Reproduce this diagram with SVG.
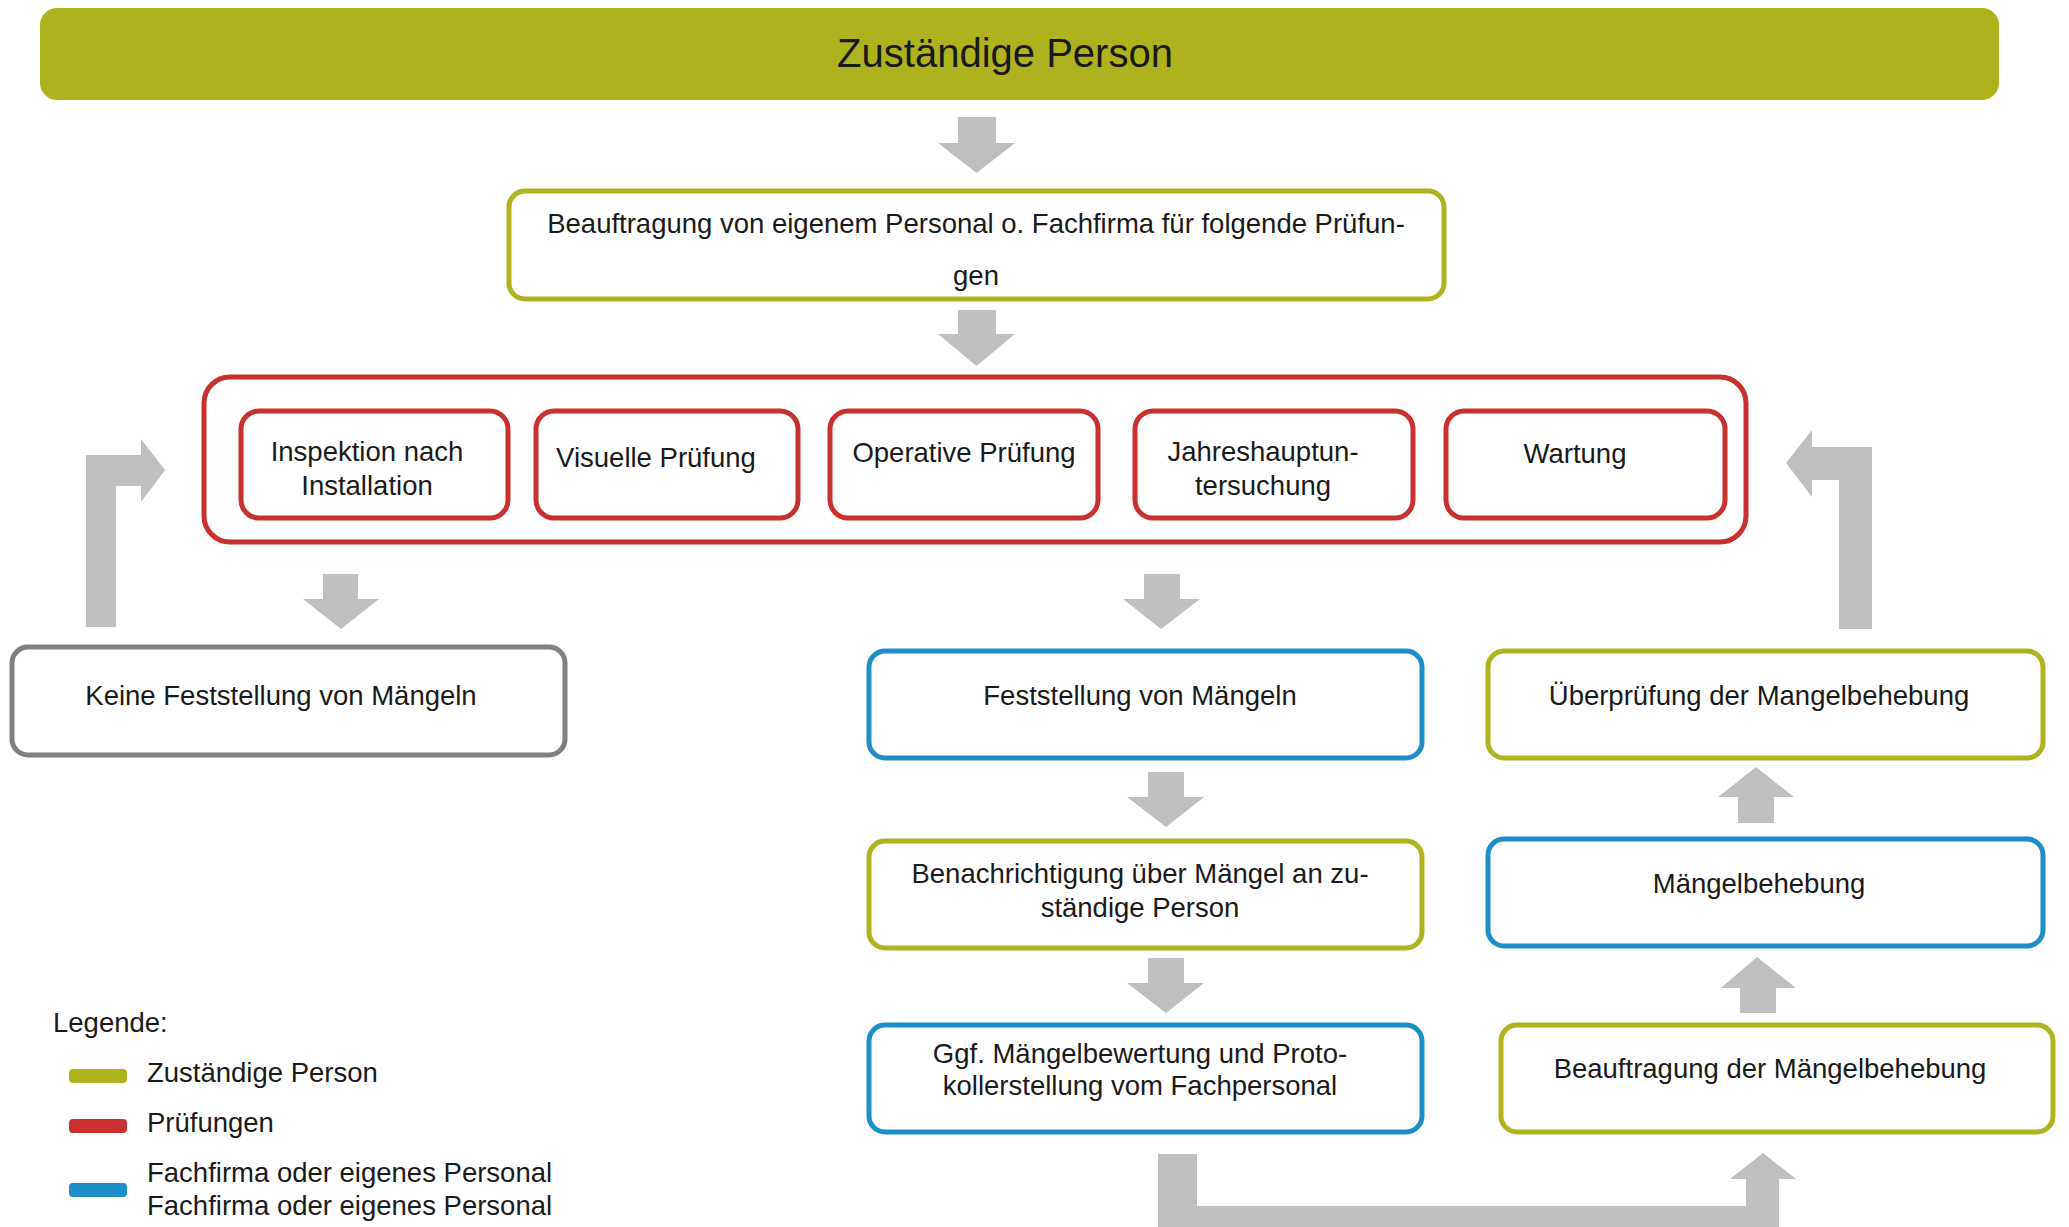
<svg xmlns="http://www.w3.org/2000/svg" width="2069" height="1227" viewBox="0 0 2069 1227">
<style>
text{font-family:"Liberation Sans",Arial,sans-serif;fill:#1a1a1a;font-size:27.5px;text-anchor:middle}
.box{fill:#fff;stroke-width:5}
.g{stroke:#AEB31F}.r{stroke:#C9302F}.b{stroke:#1D8FC6}.k{stroke:#808080}
.arr{fill:#BFBFBF}
.lt{text-anchor:start}
</style>
<rect width="2069" height="1227" fill="#fff"/>
<g id="title">
<rect x="40" y="8" width="1959" height="92" rx="17" fill="#ADB21E"/>
<text x="1005" y="67" style="font-size:40px">Zuständige Person</text>
</g>
<g id="beauftragung">
<rect class="box g" x="509" y="191" width="935" height="108" rx="16"/>
<text x="976" y="233">Beauftragung von eigenem Personal o. Fachfirma für folgende Prüfun-</text>
<text x="976" y="285">gen</text>
</g>
<g id="pruefungen">
<rect class="box r" x="204" y="377" width="1542" height="165" rx="26"/>
</g>
<g id="inspektion">
<rect class="box r" x="241" y="411" width="267" height="107" rx="18"/>
<text x="367" y="461">Inspektion nach</text>
<text x="367" y="495">Installation</text>
</g>
<g id="visuell">
<rect class="box r" x="536" y="411" width="262" height="107" rx="18"/>
<text x="656" y="467">Visuelle Prüfung</text>
</g>
<g id="operativ">
<rect class="box r" x="830" y="411" width="268" height="107" rx="18"/>
<text x="964" y="462">Operative Prüfung</text>
</g>
<g id="jahres">
<rect class="box r" x="1135" y="411" width="278" height="107" rx="18"/>
<text x="1263" y="461">Jahreshauptun-</text>
<text x="1263" y="495">tersuchung</text>
</g>
<g id="wartung">
<rect class="box r" x="1446" y="411" width="279" height="107" rx="18"/>
<text x="1575" y="463">Wartung</text>
</g>
<g id="keine">
<rect class="box k" x="12" y="647" width="553" height="108" rx="16"/>
<text x="281" y="705">Keine Feststellung von Mängeln</text>
</g>
<g id="feststellung">
<rect class="box b" x="869" y="651" width="553" height="107" rx="16"/>
<text x="1140" y="705">Feststellung von Mängeln</text>
</g>
<g id="ueberpruefung">
<rect class="box g" x="1488" y="651" width="555" height="107" rx="16"/>
<text x="1759" y="705">Überprüfung der Mangelbehebung</text>
</g>
<g id="benachrichtigung">
<rect class="box g" x="869" y="841" width="553" height="107" rx="16"/>
<text x="1140" y="883">Benachrichtigung über Mängel an zu-</text>
<text x="1140" y="917">ständige Person</text>
</g>
<g id="maengelbehebung">
<rect class="box b" x="1488" y="839" width="555" height="107" rx="16"/>
<text x="1759" y="893">Mängelbehebung</text>
</g>
<g id="ggf">
<rect class="box b" x="869" y="1025" width="553" height="107" rx="16"/>
<text x="1140" y="1063">Ggf. Mängelbewertung und Proto-</text>
<text x="1140" y="1095">kollerstellung vom Fachpersonal</text>
</g>
<g id="beauftragung-behebung">
<rect class="box g" x="1501" y="1025" width="552" height="107" rx="16"/>
<text x="1770" y="1078">Beauftragung der Mängelbehebung</text>
</g>
<g id="connectors">
<polygon class="arr" points="958,117 996,117 996,143 1015,143 976.5,173 938,143 958,143"/>
<polygon class="arr" points="958,310 996,310 996,334 1015,334 976.5,366 938,334 958,334"/>
<polygon class="arr" points="323,574 358,574 358,599 379,599 341,629 303,599 323,599"/>
<polygon class="arr" points="1144,574 1180,574 1180,599 1200,599 1161,629 1123,599 1144,599"/>
<polygon class="arr" points="1148,772 1184,772 1184,797 1204,797 1166,827 1127,797 1148,797"/>
<polygon class="arr" points="1148,958 1184,958 1184,983 1204,983 1166,1013 1127,983 1148,983"/>
<polygon class="arr" points="86,627 86,455 141,455 141,439 165,470 141,502 141,486 116,486 116,627"/>
<polygon class="arr" points="1872,629 1872,447 1812,447 1812,430 1786,463 1812,497 1812,480 1839,480 1839,629"/>
<polygon class="arr" points="1740,1013 1740,988 1721,988 1757,957 1796,988 1776,988 1776,1013"/>
<polygon class="arr" points="1738,823 1738,797 1718,797 1756,767 1794,797 1774,797 1774,823"/>
<polygon class="arr" points="1158,1154 1197,1154 1197,1206 1746,1206 1746,1179 1730,1179 1763,1153 1796,1179 1779,1179 1779,1240 1158,1240"/>
</g>
<g id="legend">
<text class="lt" x="53" y="1032">Legende:</text>
<rect x="69" y="1069" width="58" height="14" rx="4" fill="#ADB21E"/>
<text class="lt" x="147" y="1082">Zuständige Person</text>
<rect x="69" y="1119" width="58" height="14" rx="4" fill="#C9302F"/>
<text class="lt" x="147" y="1132">Prüfungen</text>
<rect x="69" y="1183" width="58" height="14" rx="4" fill="#1D8FC6"/>
<text class="lt" x="147" y="1182">Fachfirma oder eigenes Personal</text>
<text class="lt" x="147" y="1215">Fachfirma oder eigenes Personal</text>
</g>
</svg>
